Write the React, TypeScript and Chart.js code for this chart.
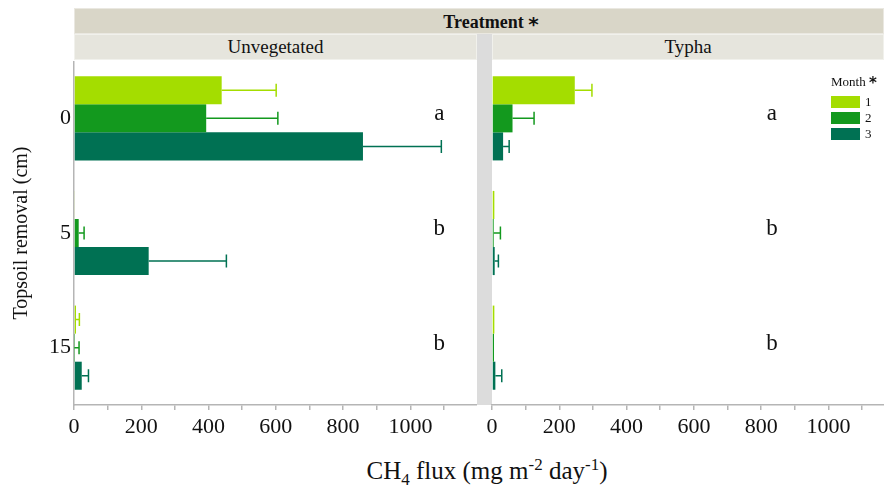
import React, { useEffect, useRef } from 'react';
import { Chart, registerables } from 'chart.js';

Chart.register(...registerables);
Chart.defaults.font.family = "'Liberation Serif', 'Times New Roman', serif";

// ---- data ----
const depths = ['0', '5', '15'];
const months = ['1', '2', '3'];
const monthColors = ['#a4dd00', '#13991e', '#007153'];

const unvegMonth1 = [439, 2, 6];
const unvegMonth2 = [393, 14, 1];
const unvegMonth3 = [859, 222, 23];
const unvegSE1 = [162, 0, 10];
const unvegSE2 = [213, 16, 14];
const unvegSE3 = [233, 231, 20];

const typhaMonth1 = [246, 7, 7];
const typhaMonth2 = [61, 5, 6];
const typhaMonth3 = [33, 8, 10];
const typhaSE1 = [51, 0, 0];
const typhaSE2 = [64, 20, 0];
const typhaSE3 = [18, 11, 19];

const unvegLetters = ['a', 'b', 'b'];
const typhaLetters = ['a', 'b', 'b'];
const xTickValues = [0, 100, 200, 300, 400, 500, 600, 700, 800, 900, 1000, 1100];
const xTickLabels = [0, 200, 400, 600, 800, 1000];

const AXIS_GRAY = '#b5b5b5';
const TEXT = '#111111';
const SERIF = "'Liberation Serif', 'Times New Roman', serif";

type PanelCfg = {
  values: number[][];
  errors: number[][];
  letters: string[];
  letterX: number;
  xMax: number;
  showY: boolean;
};

function makePanel(canvas: HTMLCanvasElement, cfg: PanelCfg) {
  const errPlugin = {
    id: 'errbars',
    afterDatasetsDraw(chart: any) {
      const ctx = chart.ctx;
      const xs = chart.scales.x;
      ctx.save();
      chart.data.datasets.forEach((ds: any, di: number) => {
        const meta = chart.getDatasetMeta(di);
        meta.data.forEach((bar: any, i: number) => {
          const se = cfg.errors[di][i];
          if (!se) return;
          const v = ds.data[i] as number;
          const x0 = xs.getPixelForValue(v);
          const x1 = xs.getPixelForValue(v + se);
          const y = bar.y;
          ctx.strokeStyle = monthColors[di];
          ctx.lineWidth = 1.5;
          ctx.beginPath();
          ctx.moveTo(x0, y);
          ctx.lineTo(x1, y);
          ctx.moveTo(x1, y - 6.5);
          ctx.lineTo(x1, y + 6.5);
          ctx.stroke();
        });
      });
      ctx.restore();
    },
  };
  const letterPlugin = {
    id: 'letters',
    afterDatasetsDraw(chart: any) {
      const ctx = chart.ctx;
      const xs = chart.scales.x;
      const ys = chart.scales.y;
      ctx.save();
      ctx.fillStyle = TEXT;
      ctx.font = `23px ${SERIF}`;
      ctx.textAlign = 'center';
      ctx.textBaseline = 'alphabetic';
      cfg.letters.forEach((l, i) => {
        ctx.fillText(l, xs.getPixelForValue(cfg.letterX), ys.getPixelForValue(i) + 2);
      });
      ctx.restore();
    },
  };

  return new Chart(canvas, {
    type: 'bar',
    data: {
      labels: depths,
      datasets: months.map((m, i) => ({
        label: m,
        data: cfg.values[i],
        backgroundColor: monthColors[i],
        borderWidth: 0,
        categoryPercentage: 0.734,
        barPercentage: 1,
      })),
    },
    options: {
      indexAxis: 'y',
      responsive: false,
      animation: false,
      layout: { padding: { left: cfg.showY ? 0 : 15, right: 0, top: 0, bottom: 0 } },
      plugins: { legend: { display: false }, tooltip: { enabled: false } },
      scales: {
        x: {
          type: 'linear',
          position: 'bottom',
          min: 0,
          max: cfg.xMax,
          afterBuildTicks: (s: any) => {
            s.ticks = xTickValues.filter((v) => v < cfg.xMax).map((v) => ({ value: v }));
          },
          afterFit: (s: any) => {
            s.height = 46;
            s.paddingLeft = 0;
            s.paddingRight = 0;
          },
          ticks: {
            autoSkip: false,
            maxRotation: 0,
            padding: 4,
            color: TEXT,
            font: { family: SERIF, size: 22 },
            callback: (v: any) => (xTickLabels.includes(Number(v)) ? String(v) : ''),
          },
          grid: {
            display: true,
            drawOnChartArea: false,
            drawTicks: true,
            tickLength: 5,
            color: AXIS_GRAY,
            lineWidth: 1.5,
          },
          border: { display: true, color: AXIS_GRAY, width: 1.5 },
        },
        y: {
          type: 'category',
          position: 'left',
          display: cfg.showY,
          afterFit: (s: any) => {
            if (cfg.showY) s.width = 74;
            s.paddingTop = 0;
            s.paddingBottom = 0;
          },
          ticks: { padding: 3, color: TEXT, font: { family: SERIF, size: 22 } },
          grid: { display: false, drawTicks: false },
          border: { display: true, color: AXIS_GRAY, width: 1.5 },
          title: {
            display: true,
            text: 'Topsoil removal (cm)',
            color: TEXT,
            font: { family: SERIF, size: 20 },
            padding: { top: 10, bottom: 0 },
          },
        },
      },
    },
    plugins: [errPlugin, letterPlugin],
  } as any);
}

const starStyle: React.CSSProperties = {
  fontFamily: "'DejaVu Sans', sans-serif",
  fontWeight: 'bold',
  position: 'relative',
  top: 3,
};

export default function App() {
  const leftRef = useRef<HTMLCanvasElement>(null);
  const rightRef = useRef<HTMLCanvasElement>(null);

  useEffect(() => {
    const left = makePanel(leftRef.current!, {
      values: [unvegMonth1, unvegMonth2, unvegMonth3],
      errors: [unvegSE1, unvegSE2, unvegSE3],
      letters: unvegLetters,
      letterX: 1086,
      xMax: 1198,
      showY: true,
    });
    const right = makePanel(rightRef.current!, {
      values: [typhaMonth1, typhaMonth2, typhaMonth3],
      errors: [typhaSE1, typhaSE2, typhaSE3],
      letters: typhaLetters,
      letterX: 832,
      xMax: 1165,
      showY: false,
    });
    return () => {
      left.destroy();
      right.destroy();
    };
  }, []);

  const strip = (left: number, top: number, width: number, bg: string, content: React.ReactNode, bold = false) => (
    <div
      style={{
        position: 'absolute',
        left,
        top,
        width,
        height: 26,
        background: bg,
        boxSizing: 'border-box',
        border: '1px solid rgba(255,255,255,0.45)',
        display: 'flex',
        alignItems: 'center',
        justifyContent: 'center',
        fontFamily: SERIF,
        fontSize: bold ? 18 : 19,
        fontWeight: bold ? 'bold' : 'normal',
        color: TEXT,
        whiteSpace: 'nowrap',
      }}
    >
      {content}
    </div>
  );

  return (
    <div
      style={{
        position: 'fixed',
        left: 0,
        top: 0,
        width: 884,
        height: 487,
        background: '#ffffff',
        overflow: 'hidden',
      }}
    >
      {strip(74, 8, 810, '#d9d6c8', (
        <span style={{ paddingLeft: 24 }}>
          Treatment <span style={{ ...starStyle, fontSize: 20 }}>*</span>
        </span>
      ), true)}
      {strip(74, 34, 403, '#e6e5dd', 'Unvegetated')}
      {strip(492, 34, 392, '#e6e5dd', 'Typha')}
      <div style={{ position: 'absolute', left: 477, top: 34, width: 15, height: 371, background: '#dcdcdc' }} />

      <canvas
        ref={leftRef}
        width={477}
        height={390}
        style={{ position: 'absolute', left: 0, top: 61, display: 'block' }}
      />
      <canvas
        ref={rightRef}
        width={407}
        height={390}
        style={{ position: 'absolute', left: 477, top: 61, display: 'block' }}
      />

      {/* legend */}
      <div style={{ position: 'absolute', left: 831, top: 73, fontFamily: SERIF, fontSize: 13, color: TEXT, whiteSpace: 'nowrap', lineHeight: '16px' }}>
        Month <span style={{ ...starStyle, top: 2, fontSize: 15 }}>*</span>
      </div>
      {months.map((m, i) => (
        <React.Fragment key={m}>
          <div
            style={{
              position: 'absolute',
              left: 831,
              top: 96 + i * 16,
              width: 29,
              height: 12,
              background: monthColors[i],
            }}
          />
          <div
            style={{
              position: 'absolute',
              left: 865,
              top: 94 + i * 16,
              fontFamily: SERIF,
              fontSize: 13,
              lineHeight: '16px',
              color: TEXT,
            }}
          >
            {m}
          </div>
        </React.Fragment>
      ))}

      {/* x-axis title */}
      <div
        style={{
          position: 'absolute',
          left: 287,
          top: 458,
          width: 400,
          textAlign: 'center',
          fontFamily: SERIF,
          fontSize: 25,
          lineHeight: '25px',
          color: TEXT,
          whiteSpace: 'nowrap',
        }}
      >
        CH<sub style={{ fontSize: 17, lineHeight: 0 }}>4</sub> flux (mg m
        <sup style={{ fontSize: 17, lineHeight: 0 }}>-2</sup> day<sup style={{ fontSize: 17, lineHeight: 0 }}>-1</sup>)
      </div>
    </div>
  );
}
